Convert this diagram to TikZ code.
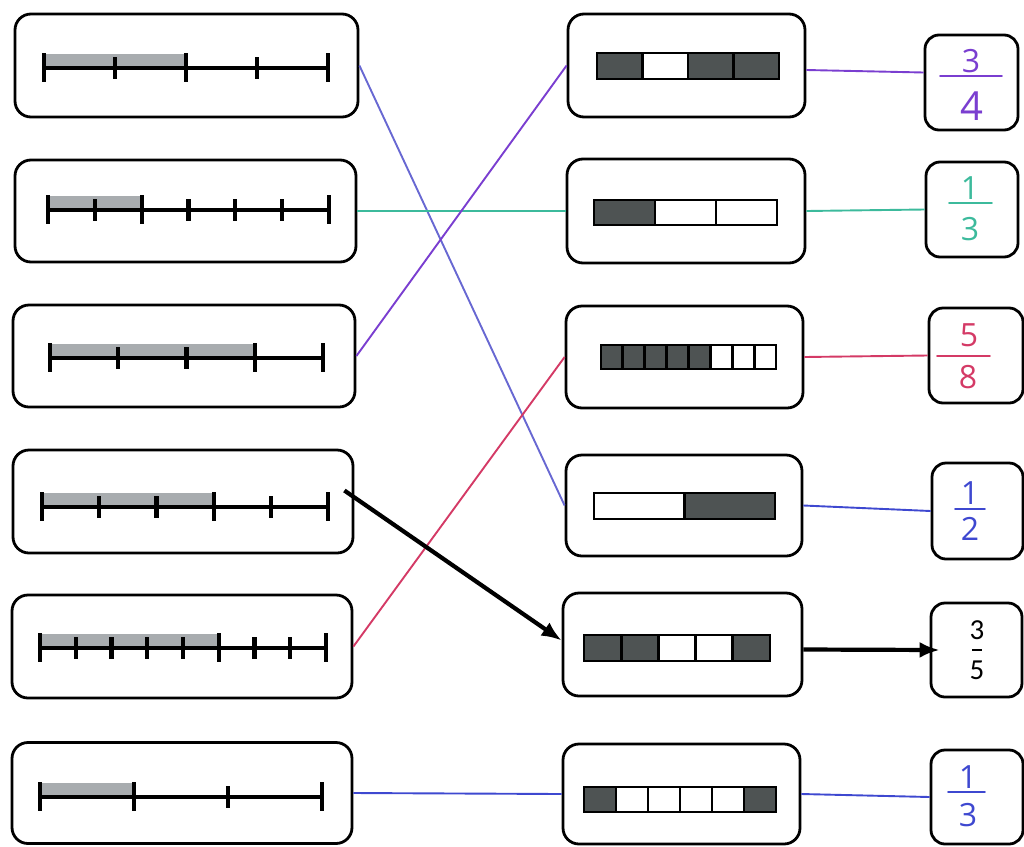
\documentclass[tikz,border=0pt]{standalone}
\usepackage{fontspec}
\usetikzlibrary{arrows.meta}
\newfontfamily\handfont{Open Sans}
\newfontfamily\typedfont{Carlito}

\definecolor{dk}{RGB}{78,83,83}
\definecolor{shadegray}{RGB}{168,172,175}
\definecolor{cpurple}{RGB}{122,62,208}
\definecolor{cslate}{RGB}{104,104,210}
\definecolor{cteal}{RGB}{60,186,156}
\definecolor{ccrimson}{RGB}{212,58,102}
\definecolor{cblue}{RGB}{62,72,208}

\tikzset{
  box/.style={draw, rounded corners=16, line width=2.8, inner sep=0},
  fbox/.style={draw, rounded corners=14, line width=2.8, inner sep=0},
  axis/.style={line width=3.3},
  tickmark/.style={line width=4.2},
  link/.style={line width=1.9},
  bigarrow/.style={line width=4.2, -{Latex[length=20pt,width=16pt]}},
  hand/.style={inner sep=0, font=\handfont\fontsize{32}{32}\selectfont},
  typed/.style={inner sep=0, font=\typedfont\fontsize{29}{29}\selectfont},
  fracbar/.style={line width=1.8, line cap=round},
}

% number line: y, x0, x1, number of parts, shaded parts
\newcommand\nline[5]{%
  \pgfmathsetmacro\seg{(#3-#2)/#4}
  \fill[shadegray] (#2,#1-14) rectangle ({#2+#5*\seg},#1);
  \draw[axis] (#2,#1) -- (#3,#1);
  \foreach \i in {1,...,#4}{\draw[tickmark] ({#2+\i*\seg},#1-11) -- ({#2+\i*\seg},#1+11);}
  \draw[tickmark] (#2,#1-15) -- (#2,#1+14);
  \draw[tickmark] (#3,#1-15) -- (#3,#1+14);
  \draw[tickmark] ({#2+#5*\seg},#1-15) -- ({#2+#5*\seg},#1+14);
}

% fraction strip: x0, x1, y0, y1, number of cells, cell colours
\newcommand\cbar[6]{%
  \pgfmathsetmacro\cw{(#2-#1)/#5}
  \foreach \c [count=\i from 0] in {#6}{%
    \filldraw[fill=\c, draw=black, line width=2.8]
      ({#1+\i*\cw},#3) rectangle ({#1+(\i+1)*\cw},#4);}
}

\begin{document}
\begin{tikzpicture}[x=1pt, y=-1pt]
\useasboundingbox (0,0) rectangle (1024,846);

% number-line cards
\node[box, minimum width=343, minimum height=103] (L1) at (186.5,65.5) {};
\node[box, minimum width=341, minimum height=102] (L2) at (185.5,211) {};
\node[box, minimum width=342, minimum height=102] (L3) at (184,356) {};
\node[box, minimum width=340, minimum height=103] (L4) at (183,501.5) {};
\node[box, minimum width=340, minimum height=103] (L5) at (182,646.5) {};
\node[box, minimum width=340, minimum height=101] (L6) at (182,793) {};

\nline{68}{44}{328}{4}{2}
\nline{210}{48}{329}{6}{2}
\nline{358}{50}{323}{4}{3}
\nline{507}{42}{328}{5}{3}
\nline{648}{40}{326}{8}{5}
\nline{797}{40}{322}{3}{1}

% strip cards
\node[box, minimum width=237, minimum height=103] (M1) at (686.5,65.5) {};
\node[box, minimum width=238, minimum height=104] (M2) at (686,211) {};
\node[box, minimum width=237, minimum height=102] (M3) at (684.5,357) {};
\node[box, minimum width=236, minimum height=101] (M4) at (684,505.5) {};
\node[box, minimum width=239, minimum height=103] (M5) at (682.5,644.5) {};
\node[box, minimum width=237, minimum height=100] (M6) at (681.5,794) {};

\cbar{597}{779}{53}{79}{4}{dk,white,dk,dk}
\cbar{594}{777}{200}{225}{3}{dk,white,white}
\cbar{601}{776}{345}{369}{8}{dk,dk,dk,dk,dk,white,white,white}
\cbar{594}{775}{493}{519}{2}{white,dk}
\cbar{584}{770}{635}{661}{5}{dk,dk,white,white,dk}
\cbar{584}{776}{787}{812}{6}{dk,white,white,white,white,dk}

% fraction cards
\node[fbox, minimum width=93, minimum height=95] (R1) at (971.5,82.5) {};
\node[fbox, minimum width=92, minimum height=95] (R2) at (972,209.5) {};
\node[fbox, minimum width=94, minimum height=95] (R3) at (976,355.5) {};
\node[fbox, minimum width=91, minimum height=96] (R4) at (977.5,511) {};
\node[fbox, minimum width=91, minimum height=94] (R5) at (976.5,650) {};
\node[fbox, minimum width=92, minimum height=94] (R6) at (977,797) {};

\node[hand, text=cpurple] (R1n) at (971,61) {3};
\draw[fracbar, cpurple] (940,76) -- (1002,76);
\node[hand, text=cpurple, font=\handfont\fontsize{40}{40}\selectfont] (R1d) at (972,106) {4};

\node[hand, text=cteal] (R2n) at (970,188) {1};
\draw[fracbar, cteal] (949,203) -- (992,203);
\node[hand, text=cteal] (R2d) at (970,229) {3};

\node[hand, text=ccrimson] (R3n) at (969,335) {5};
\draw[fracbar, ccrimson] (937,356) -- (990,356);
\node[hand, text=ccrimson] (R3d) at (968,377) {8};

\node[hand, text=cblue] (R4n) at (970,493) {1};
\draw[fracbar, cblue] (955,509) -- (985,509);
\node[hand, text=cblue] (R4d) at (970,529) {2};

\node[typed] (R5n) at (977,630) {3};
\draw[line width=1.6] (972,650) -- (982,650);
\node[typed] (R5d) at (977,670) {5};

\node[hand, text=cblue] (R6n) at (968,777) {1};
\draw[fracbar, cblue] (948,792) -- (985,792);
\node[hand, text=cblue] (R6d) at (968,815) {3};

% matching lines
\draw[link, cslate] (L1.east) -- (M4.west);
\draw[link, cteal] (L2.east) -- (M2.west);
\draw[link, cpurple] (L3.east) -- (M1.west);
\draw[link, ccrimson] (L5.east) -- (M3.west);
\draw[link, cblue] (L6.east) -- (M6.west);

\draw[link, cpurple] ([yshift=-4.5]M1.east) -- ([yshift=10]R1.west);
\draw[link, cteal] (M2.east) -- (R2.west);
\draw[link, ccrimson] (M3.east) -- (R3.west);
\draw[link, cblue] (M4.east) -- (R4.west);
\draw[link, cblue] (M6.east) -- (R6.west);

% worked example
\coordinate (start) at ([shift={(-10,-11)}]L4.east);
\draw[bigarrow] (start) -- ([yshift=4]M5.west);
\draw[bigarrow] ([yshift=-5]M5.east) -- ([xshift=10]R5.west);
\end{tikzpicture}
\end{document}
